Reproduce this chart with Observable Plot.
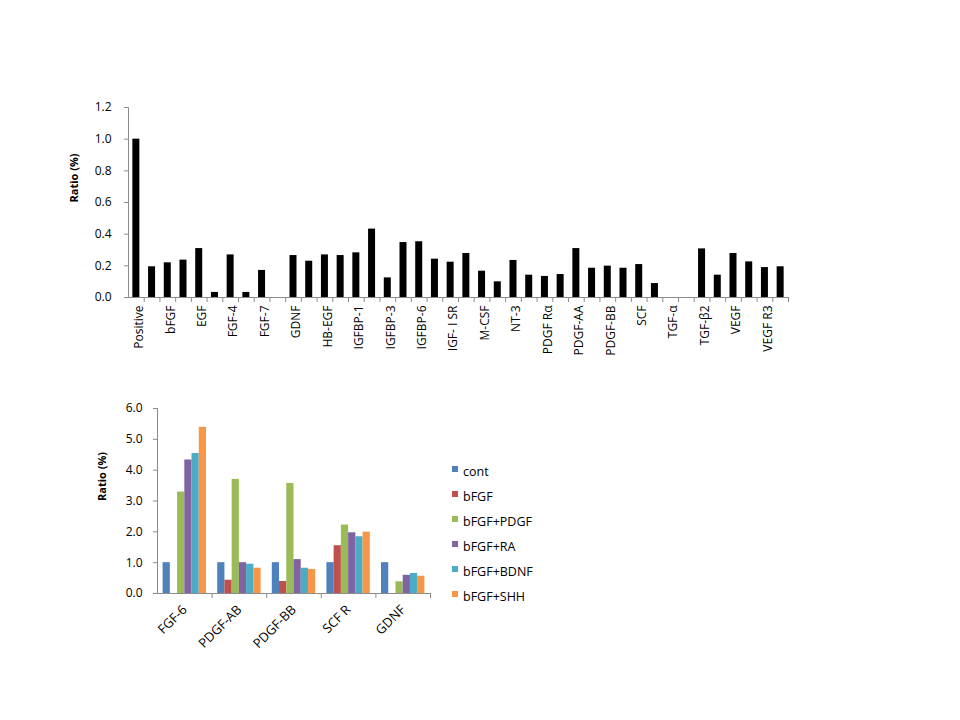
<!DOCTYPE html>
<html>
<head>
<meta charset="utf-8">
<script src="https://cdn.jsdelivr.net/npm/d3@7"></script>
<script src="https://cdn.jsdelivr.net/npm/@observablehq/plot@0.6"></script>
<style>
  html, body { margin: 0; padding: 0; background: #fff; }
  #page { position: relative; width: 960px; height: 720px; background: #fff; font-family: "Open Sans", sans-serif; }
  #top, #bottom, #legend { position: absolute; }
  #top { left: 0; top: 0; }
  #bottom { left: 0; top: 360px; }
  #legend { left: 452px; top: 459px; font-size: 12.5px; color: #000; }
  .li { height: 25px; display: flex; align-items: center; }
  .sw { width: 6px; height: 6px; margin-right: 5px; position: relative; top: -3px; }
</style>
</head>
<body>
<div id="page">
  <div id="top"></div>
  <div id="bottom"></div>
  <div id="legend"></div>
</div>
<script>
// ---- Top chart data ----
const proteins = ["Positive","Amphiregulin","bFGF","b-NGF","EGF","EGF R","FGF-4","FGF-6","FGF-7","GCSF",
  "GDNF","GM-CSF","HB-EGF","HGF","IGFBP-1","IGFBP-2","IGFBP-3","IGFBP-4","IGFBP-6","IGF-I",
  "IGF- I SR","IGF-II","M-CSF","M-CSF R","NT-3","NT-4","PDGF Rα","PDGF Rβ","PDGF-AA","PDGF-AB",
  "PDGF-BB","PLGF","SCF","SCF R","TGF-α","TGF-β","TGF-β2","TGF-β3","VEGF","VEGF R2","VEGF R3","VEGF-D"];
const ratios = [1.0,0.194,0.219,0.236,0.309,0.032,0.269,0.032,0.171,0,
  0.265,0.229,0.269,0.265,0.282,0.432,0.124,0.347,0.352,0.242,
  0.223,0.278,0.166,0.099,0.234,0.141,0.133,0.145,0.309,0.185,
  0.198,0.185,0.208,0.088,0,0,0.307,0.141,0.278,0.225,0.189,0.194];
const topTicks = [0,0.2,0.4,0.6,0.8,1.0,1.2];

// ---- Bottom chart data ----
const targets = ["FGF-6","PDGF-AB","PDGF-BB","SCF R","GDNF"];
const treatments = ["cont","bFGF","bFGF+PDGF","bFGF+RA","bFGF+BDNF","bFGF+SHH"];
const colors = ["#4F81BD","#C0504D","#9BBB59","#8064A2","#4BACC6","#F79646"];
const contVals = [1.0,1.0,1.0,1.0,1.0];
const bfgfVals = [0,0.43,0.39,1.55,0];
const pdgfVals = [3.29,3.70,3.57,2.22,0.38];
const raVals   = [4.33,1.00,1.10,1.97,0.59];
const bdnfVals = [4.54,0.95,0.82,1.84,0.65];
const shhVals  = [5.39,0.82,0.78,1.99,0.56];
const seriesVals = [contVals,bfgfVals,pdgfVals,raVals,bdnfVals,shhVals];
const bottomTicks = [0,1,2,3,4,5,6];

const axisGray = "#8c8c8c";
const font = "'Open Sans', sans-serif";
const fmt = d3.format(".1f");

// ---------- Top chart ----------
{
  const width = 960, mL = 128, mR = 172;
  const step = (width - mL - mR) / proteins.length;
  const barW = 7;
  const inset = (step - barW) / 2;
  const data = proteins.map((p, i) => ({p, v: ratios[i]}));
  const chart = Plot.plot({
    width, height: 360,
    marginLeft: mL, marginRight: mR, marginTop: 107, marginBottom: 63,
    style: {fontFamily: font, fontSize: "12px", color: "#000", background: "transparent"},
    x: {domain: proteins, padding: 0, round: false},
    y: {domain: [0, 1.2]},
    marks: [
      Plot.barY(data, {x: "p", y: "v", fill: "#000", insetLeft: inset, insetRight: inset}),
      Plot.ruleY([0], {stroke: axisGray}),
      Plot.ruleX([proteins[0]], {dx: -step / 2, stroke: axisGray}),
      Plot.axisX({ticks: proteins, tickSize: 5, text: null, dx: step / 2, stroke: axisGray, label: null}),
      Plot.axisX({ticks: proteins.filter((d, i) => i % 2 === 0), tickSize: 0, tickPadding: 8,
        tickRotate: -90, label: null, fontSize: 12, dx: 3}),
      Plot.axisY({ticks: topTicks, tickFormat: fmt, tickSize: 4, tickPadding: 13, stroke: axisGray,
        label: null, fontSize: 12}),
      Plot.text(["Ratio (%)"], {frameAnchor: "left", rotate: -90, dx: -54, fontWeight: "bold", fontSize: 11})
    ]
  });
  document.getElementById("top").appendChild(chart);
}

// ---------- Bottom chart ----------
{
  const width = 960, mL = 157, mR = 530;
  const step = (width - mL - mR) / targets.length;
  const groupW = step * 0.795;
  const gapHalf = (step - groupW) / 2;
  const bw = groupW / treatments.length;
  const marks = [];
  treatments.forEach((t, j) => {
    const rows = targets.map((c, i) => ({c, v: seriesVals[j][i]}));
    marks.push(Plot.barY(rows, {
      x: "c", y: "v", fill: colors[j],
      insetLeft: gapHalf + j * bw,
      insetRight: step - gapHalf - (j + 1) * bw
    }));
  });
  const chart = Plot.plot({
    width, height: 313,
    marginLeft: mL, marginRight: mR, marginTop: 48, marginBottom: 80,
    style: {fontFamily: font, fontSize: "12px", color: "#000", background: "transparent"},
    x: {domain: targets, padding: 0, round: false},
    y: {domain: [0, 6]},
    marks: [
      ...marks,
      Plot.ruleY([0], {stroke: axisGray}),
      Plot.ruleX([targets[0]], {dx: -step / 2, stroke: axisGray}),
      Plot.axisX({ticks: targets, tickSize: 5, text: null, dx: step / 2, stroke: axisGray, label: null}),
      Plot.axisX({ticks: targets, tickSize: 0, tickPadding: 14, tickRotate: -45, label: null, fontSize: 13}),
      Plot.axisY({ticks: bottomTicks, tickFormat: fmt, tickSize: 4, tickPadding: 11, stroke: axisGray,
        label: null, fontSize: 12}),
      Plot.text(["Ratio (%)"], {frameAnchor: "left", rotate: -90, dx: -55, fontWeight: "bold", fontSize: 11})
    ]
  });
  document.getElementById("bottom").appendChild(chart);
}

// ---------- Legend ----------
{
  const leg = document.getElementById("legend");
  treatments.forEach((t, j) => {
    const row = document.createElement("div");
    row.className = "li";
    const sw = document.createElement("span");
    sw.className = "sw";
    sw.style.background = colors[j];
    const lab = document.createElement("span");
    lab.textContent = t;
    row.appendChild(sw);
    row.appendChild(lab);
    leg.appendChild(row);
  });
}
</script>
</body>
</html>
